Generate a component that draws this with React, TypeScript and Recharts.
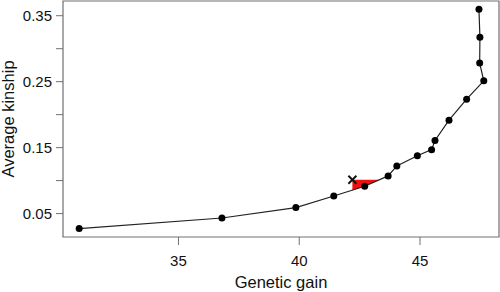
import React from "react";
import {
  ComposedChart,
  Line,
  Area,
  Scatter,
  XAxis,
  YAxis,
  ReferenceArea,
  Label,
} from "recharts";

// frontier of solutions
const gain = [30.89, 36.8, 39.86, 41.43, 42.71, 43.68, 44.04, 44.89, 45.48, 45.62, 46.2, 46.93, 47.64, 47.47, 47.48, 47.44];
const kinship = [0.0272, 0.0433, 0.0591, 0.0767, 0.0914, 0.1071, 0.1223, 0.1377, 0.1469, 0.1608, 0.1916, 0.2235, 0.2513, 0.2782, 0.3172, 0.3597];

// the current selection (cross)
const currentGain = 42.2;
const currentKinship = 0.1013;

const xTicks = [35, 40, 45];
const yTicks = [0.05, 0.1, 0.15, 0.2, 0.25, 0.3, 0.35];
const xDomain = [30.22, 48.27];
const yDomain = [0.0145, 0.3723];

const frame = "#707070";
const ink = "#111";

const frontier = gain.map((g, i) => ({ gain: g, kinship: kinship[i] }));
const current = [{ gain: currentGain, kinship: currentKinship }];

// region where the frontier beats the current selection on both counts
const buildRegion = () => {
  const out: { gain: number; band: [number, number] }[] = [];
  for (let i = 0; i < frontier.length - 1; i++) {
    const a = frontier[i];
    const b = frontier[i + 1];
    if (a.gain <= currentGain && b.gain > currentGain) {
      const t = (currentGain - a.gain) / (b.gain - a.gain);
      out.push({ gain: currentGain, band: [a.kinship + t * (b.kinship - a.kinship), currentKinship] });
    }
    if (b.gain > currentGain && b.kinship < currentKinship) {
      out.push({ gain: b.gain, band: [b.kinship, currentKinship] });
    }
    if (a.kinship < currentKinship && b.kinship >= currentKinship) {
      const t = (currentKinship - a.kinship) / (b.kinship - a.kinship);
      out.push({ gain: a.gain + t * (b.gain - a.gain), band: [currentKinship, currentKinship] });
      break;
    }
  }
  return out;
};
const region = buildRegion();

const Cross = (props: any) => {
  const { cx, cy } = props;
  const s = 4;
  return (
    <g stroke={ink} strokeWidth={2}>
      <line x1={cx - s} y1={cy - s} x2={cx + s} y2={cy + s} />
      <line x1={cx - s} y1={cy + s} x2={cx + s} y2={cy - s} />
    </g>
  );
};

const yLabel = (v: number) => {
  const n = Math.round(v * 100);
  return n % 10 === 5 ? v.toFixed(2) : "";
};

export default function App() {
  return (
    <div
      style={{
        position: "absolute",
        left: 0,
        top: 0,
        width: 500,
        height: 292,
        background: "#fff",
        fontFamily: "'Liberation Sans', Arial, sans-serif",
      }}
    >
      <ComposedChart
        width={500}
        height={292}
        data={frontier}
        margin={{ top: 1, right: 1, bottom: 0, left: 0 }}
      >
        <XAxis
          dataKey="gain"
          type="number"
          domain={xDomain}
          allowDataOverflow
          ticks={xTicks}
          axisLine={false}
          tickLine={{ stroke: frame }}
          tickSize={8}
          tickMargin={10}
          height={55}
          tick={{ fill: ink, fontSize: 15 }}
        >
          <Label value="Genetic gain" position="insideBottom" offset={4} fill={ink} fontSize={16.5} />
        </XAxis>
        <YAxis
          dataKey="kinship"
          type="number"
          domain={yDomain}
          allowDataOverflow
          ticks={yTicks}
          interval={0}
          tickFormatter={yLabel}
          axisLine={false}
          tickLine={{ stroke: frame }}
          tickSize={7}
          tickMargin={4}
          width={63}
          tick={{ fill: ink, fontSize: 15 }}
        >
          <Label
            value="Average kinship"
            angle={-90}
            position="insideLeft"
            offset={8}
            fill={ink}
            fontSize={16.5}
            style={{ textAnchor: "middle" }}
          />
        </YAxis>
        <ReferenceArea
          x1={xDomain[0]}
          x2={xDomain[1]}
          y1={yDomain[0]}
          y2={yDomain[1]}
          fill="none"
          stroke={frame}
          strokeWidth={1.2}
          ifOverflow="visible"
        />
        <Area
          data={region}
          dataKey="band"
          type="linear"
          fill="#ee1111"
          fillOpacity={1}
          stroke="none"
          isAnimationActive={false}
        />
        <Line
          dataKey="kinship"
          type="linear"
          stroke="#222"
          strokeWidth={1.2}
          dot={{ r: 3.5, fill: "#000", stroke: "none" }}
          activeDot={false}
          isAnimationActive={false}
        />
        <Scatter data={current} dataKey="kinship" shape={Cross} isAnimationActive={false} />
      </ComposedChart>
    </div>
  );
}
